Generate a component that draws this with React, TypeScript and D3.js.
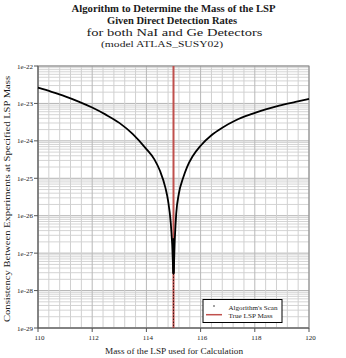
import React from "react";
import * as d3 from "d3";

const titleLines = [
  "Algorithm to Determine the Mass of the LSP",
  "Given Direct Detection Rates",
  "for both NaI and Ge Detectors",
  "(model ATLAS_SUSY02)",
];
const xTicks = [110, 112, 114, 116, 118, 120];
const yTickExps = [-22, -23, -24, -25, -26, -27, -28, -29];
const trueMass = 115;

// Algorithm scan: mass and log10(consistency)
const scanMass = [
  110.0, 110.5, 111.0, 111.5, 112.0, 112.5, 113.0, 113.5, 114.0, 114.3, 114.5,
  114.7, 114.8, 114.9, 114.95, 115.0, 115.05, 115.1, 115.2, 115.35, 115.5,
  115.7, 116.0, 116.4, 116.8, 117.3, 117.9, 118.4, 118.9, 119.5, 120.0,
];
const scanLog = [
  -22.58, -22.69, -22.81, -22.95, -23.11, -23.3, -23.52, -23.82, -24.22, -24.5,
  -24.8, -25.25, -25.6, -26.2, -26.75, -27.55, -26.6, -25.95, -25.4, -25.0,
  -24.7, -24.42, -24.13, -23.85, -23.65, -23.45, -23.28, -23.16, -23.06,
  -22.96, -22.88,
];
// dense scan points right at the true mass
const coreLog = [-26.6, -27.55];
const tailLog = [-27.55, -29.0];

const W = 346;
const H = 358;
const m = { left: 38, right: 309, top: 66, bottom: 328 };

export default function App() {
  const x = d3.scaleLinear().domain([110, 120]).range([m.left, m.right]);
  const y = d3.scaleLog().domain([1e-22, 1e-29]).range([m.top, m.bottom]);
  const yl = (e: number) => y(Math.pow(10, e));

  const vGrid = d3.range(0, 26).map((i) => 110 + i * 0.4);
  const hMinor: number[] = [];
  for (let e = -29; e < -22; e++) {
    for (let k = 2; k < 10; k++) hMinor.push(k * Math.pow(10, e));
  }

  const line = d3
    .line<[number, number]>()
    .x((d) => x(d[0]))
    .y((d) => yl(d[1]))
    .curve(d3.curveMonotoneX);
  const pts: [number, number][] = scanMass.map((v, i) => [v, scanLog[i]]);

  const font = "'Liberation Serif', 'Times New Roman', serif";
  const lineColor = "#c0504d";
  const txt = "#1a1a1a";

  return (
    <svg width={W} height={H} style={{ position: "absolute", left: 0, top: 0 }}>
      <rect width={W} height={H} fill="#fff" />
      {/* title */}
      <g fontFamily={font} textAnchor="middle" fill={txt}>
        <text x={173.5} y={12} fontSize={9.5} fontWeight="bold" textLength={204} lengthAdjust="spacingAndGlyphs">
          {titleLines[0]}
        </text>
        <text x={172} y={24} fontSize={9.5} fontWeight="bold" textLength={130} lengthAdjust="spacingAndGlyphs">
          {titleLines[1]}
        </text>
        <text x={174.5} y={36} fontSize={9.5} textLength={176} lengthAdjust="spacingAndGlyphs">
          {titleLines[2]}
        </text>
        <text x={162} y={47} fontSize={9} textLength={122} lengthAdjust="spacingAndGlyphs">
          {titleLines[3]}
        </text>
      </g>

      {/* grid */}
      <g>
        {hMinor.map((v, i) => (
          <line key={"hm" + i} x1={m.left} x2={m.right} y1={y(v)} y2={y(v)} stroke="#d4d4d4" strokeWidth={1} />
        ))}
        {yTickExps.map((e) => (
          <line key={"hM" + e} x1={m.left} x2={m.right} y1={yl(e)} y2={yl(e)} stroke="#b4b4b4" strokeWidth={1} />
        ))}
        {vGrid.map((v, i) => (
          <line key={"v" + i} x1={x(v)} x2={x(v)} y1={m.top} y2={m.bottom} stroke={i % 5 === 0 ? "#b8b8b8" : "#d0d0d0"} strokeWidth={1} />
        ))}
      </g>

      {/* plot border */}
      <rect x={m.left} y={m.top} width={m.right - m.left} height={m.bottom - m.top} fill="none" stroke="#8a8a8a" strokeWidth={1} />
      <line x1={m.left} x2={m.left} y1={m.top} y2={m.bottom} stroke="#555" />
      <line x1={m.left} x2={m.right} y1={m.bottom} y2={m.bottom} stroke="#555" />

      {/* true mass line */}
      <line x1={x(trueMass)} x2={x(trueMass)} y1={m.top} y2={m.bottom} stroke={lineColor} strokeWidth={2} />

      {/* scan */}
      <path d={line(pts) || ""} fill="none" stroke="#000" strokeWidth={1.8} />
      <line x1={x(trueMass)} x2={x(trueMass)} y1={yl(coreLog[0])} y2={yl(coreLog[1])} stroke="#000" strokeWidth={2.5} />
      <line
        x1={x(trueMass)}
        x2={x(trueMass)}
        y1={yl(tailLog[0])}
        y2={yl(tailLog[1])}
        stroke="#000"
        strokeWidth={1}
        strokeDasharray="1,2"
      />

      {/* y axis */}
      <g fontFamily={font} fontSize={7} fill={txt}>
        {yTickExps.map((e) => (
          <g key={"yt" + e}>
            <line x1={m.left - 4} x2={m.left} y1={yl(e)} y2={yl(e)} stroke="#555" />
            <text x={m.left - 5} y={yl(e) + 2.5} textAnchor="end">
              {"1e" + e}
            </text>
          </g>
        ))}
      </g>
      {/* x axis */}
      <g fontFamily={font} fontSize={7} fill={txt}>
        {xTicks.map((t) => (
          <g key={"xt" + t}>
            <line x1={x(t)} x2={x(t)} y1={m.bottom} y2={m.bottom + 4} stroke="#555" />
            <text x={x(t) + 1.5} y={m.bottom + 12} textAnchor="middle">
              {t}
            </text>
          </g>
        ))}
      </g>

      {/* axis titles */}
      <text x={174} y={354} fontFamily={font} fontSize={8.5} fill={txt} textAnchor="middle" textLength={138} lengthAdjust="spacingAndGlyphs">
        Mass of the LSP used for Calculation
      </text>
      <text
        transform={`translate(10,${(m.top + m.bottom) / 2 + 2}) rotate(-90)`}
        fontFamily={font}
        fontSize={8.5}
        fill={txt}
        textAnchor="middle"
        textLength={246}
        lengthAdjust="spacingAndGlyphs"
      >
        Consistency Between Experiments at Specified LSP Mass
      </text>

      {/* legend */}
      <g>
        <rect x={203} y={299.5} width={79} height={23} fill="#fff" stroke="#000" strokeWidth={1} />
        <circle cx={214} cy={306} r={0.7} fill="#000" />
        <line x1={206} x2={222} y1={314.7} y2={314.7} stroke={lineColor} strokeWidth={1.5} />
        <g fontFamily={font} fontSize={6.5} fill={txt}>
          <text x={228.5} y={309.5} textLength={49} lengthAdjust="spacingAndGlyphs">Algorithm's Scan</text>
          <text x={228.5} y={317.5} textLength={44} lengthAdjust="spacingAndGlyphs">True LSP Mass</text>
        </g>
      </g>
    </svg>
  );
}
